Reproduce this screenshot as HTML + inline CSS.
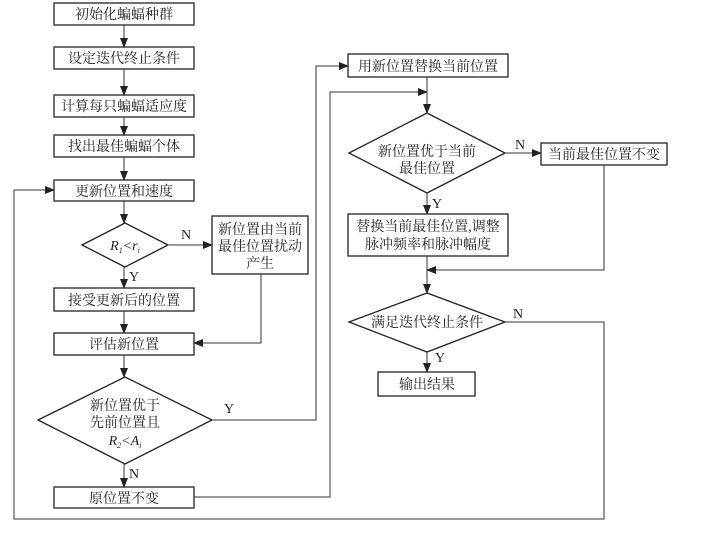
<!DOCTYPE html>
<html><head><meta charset="utf-8"><style>
body{margin:0;background:#fff}
text{font-family:"Liberation Serif","Noto Serif CJK SC",serif;font-size:14px;fill:#222}
</style></head><body>
<svg width="702" height="529" viewBox="0 0 702 529" xmlns="http://www.w3.org/2000/svg">
<defs><marker id="a" markerWidth="10" markerHeight="8" refX="9" refY="4" orient="auto" markerUnits="userSpaceOnUse"><path d="M0,0 L10,4 L0,8 Z" fill="#222"/></marker></defs>
<g fill="none" stroke="#222" stroke-width="1.3">
<rect x="54" y="3" width="140" height="22"/>
<rect x="54" y="47" width="140" height="22"/>
<rect x="54" y="95" width="140" height="22"/>
<rect x="54" y="135" width="140" height="22"/>
<rect x="54" y="180" width="140" height="21"/>
<polygon points="82,245 125,223 168,245 125,267"/>
<rect x="212" y="216" width="96" height="58"/>
<rect x="54" y="288" width="140" height="23"/>
<rect x="54" y="333" width="140" height="22"/>
<polygon points="38,420 125,377 212,420 125,464"/>
<rect x="54" y="487" width="140" height="21"/>
<rect x="348" y="54" width="160" height="23"/>
<polygon points="349,153 427,113 505,153 427,193"/>
<rect x="541" y="143" width="126" height="22"/>
<rect x="348" y="214" width="160" height="42"/>
<polygon points="349,322 427,293 505,322 427,352"/>
<rect x="378" y="372" width="97" height="24"/>
</g>
<g fill="none" stroke="#333" stroke-width="1">
<line x1="124" y1="25" x2="124" y2="47" marker-end="url(#a)"/>
<line x1="124" y1="69" x2="124" y2="95" marker-end="url(#a)"/>
<line x1="124" y1="117" x2="124" y2="135" marker-end="url(#a)"/>
<line x1="124" y1="157" x2="124" y2="180" marker-end="url(#a)"/>
<line x1="124" y1="201" x2="124" y2="223" marker-end="url(#a)"/>
<line x1="168" y1="245" x2="212" y2="245" marker-end="url(#a)"/>
<line x1="124" y1="267" x2="124" y2="288" marker-end="url(#a)"/>
<line x1="124" y1="311" x2="124" y2="333" marker-end="url(#a)"/>
<polyline points="261,274 261,343 194,343" marker-end="url(#a)"/>
<line x1="124" y1="355" x2="124" y2="377" marker-end="url(#a)"/>
<line x1="124" y1="464" x2="124" y2="487" marker-end="url(#a)"/>
<polyline points="212,420 316,420 316,66 348,66" marker-end="url(#a)"/>
<polyline points="194,497 330,497 330,92 427,92" marker-end="url(#a)"/>
<line x1="427" y1="77" x2="427" y2="113" marker-end="url(#a)"/>
<line x1="505" y1="153" x2="541" y2="153" marker-end="url(#a)"/>
<line x1="427" y1="193" x2="427" y2="214" marker-end="url(#a)"/>
<polyline points="604,165 604,270 427,270" marker-end="url(#a)"/>
<line x1="427" y1="256" x2="427" y2="293" marker-end="url(#a)"/>
<line x1="427" y1="352" x2="427" y2="372" marker-end="url(#a)"/>
<polyline points="505,322 604,322 604,519 14,519 14,190 54,190" marker-end="url(#a)"/>
</g>
<g text-anchor="middle">
<text x="124" y="19">初始化蝙蝠种群</text>
<text x="124" y="63">设定迭代终止条件</text>
<text x="124" y="111">计算每只蝙蝠适应度</text>
<text x="124" y="151">找出最佳蝙蝠个体</text>
<text x="124" y="196">更新位置和速度</text>
<text x="125" y="250" font-style="italic">R<tspan font-size="8" dy="3">1</tspan><tspan dy="-3">&lt;r</tspan><tspan font-size="8" dy="3">i</tspan></text>
<text x="260" y="234">新位置由当前</text>
<text x="260" y="251">最佳位置扰动</text>
<text x="260" y="268">产生</text>
<text x="124" y="305">接受更新后的位置</text>
<text x="124" y="349">评估新位置</text>
<text x="125" y="410">新位置优于</text>
<text x="125" y="427">先前位置且</text>
<text x="125" y="445" font-style="italic">R<tspan font-size="8" dy="3">2</tspan><tspan dy="-3">&lt;A</tspan><tspan font-size="8" dy="3">i</tspan></text>
<text x="124" y="503">原位置不变</text>
<text x="428" y="71">用新位置替换当前位置</text>
<text x="427" y="156">新位置优于当前</text>
<text x="427" y="173">最佳位置</text>
<text x="604" y="159">当前最佳位置不变</text>
<text x="428" y="231">替换当前最佳位置,调整</text>
<text x="428" y="249">脉冲频率和脉冲幅度</text>
<text x="427" y="327">满足迭代终止条件</text>
<text x="427" y="389">输出结果</text>
<text x="186" y="239">N</text>
<text x="134" y="281">Y</text>
<text x="229" y="413">Y</text>
<text x="134" y="478">N</text>
<text x="520" y="149">N</text>
<text x="437" y="208">Y</text>
<text x="518" y="318">N</text>
<text x="440" y="362">Y</text>
</g>
</svg>
</body></html>
